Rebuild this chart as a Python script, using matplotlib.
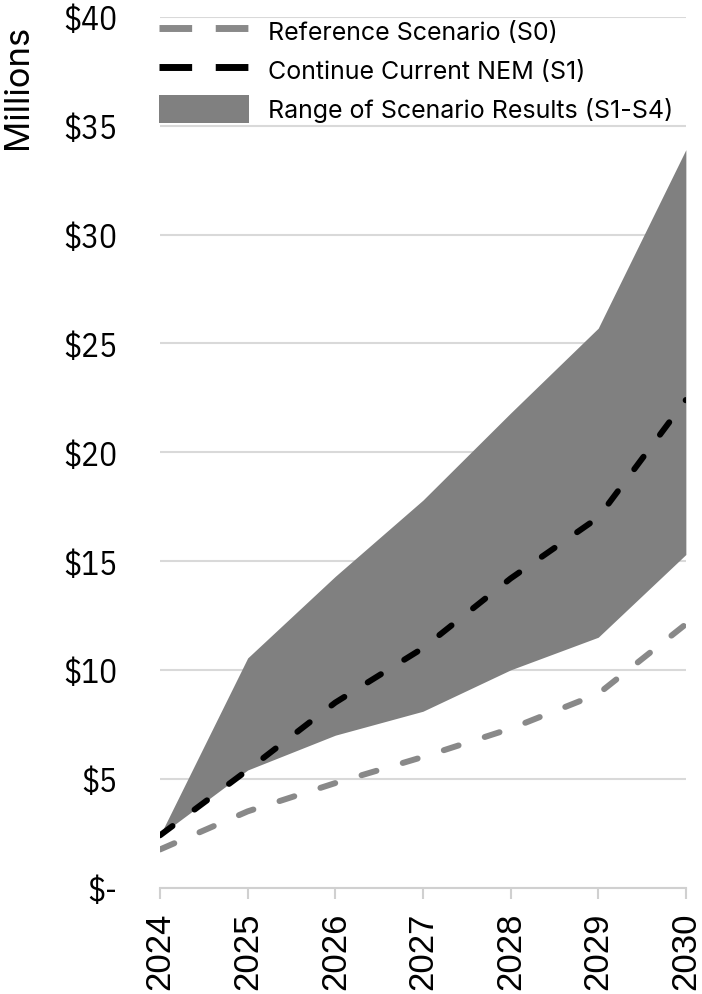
import matplotlib.pyplot as plt
from matplotlib.lines import Line2D
from matplotlib.patches import Patch

years = [2024, 2025, 2026, 2027, 2028, 2029, 2030]
s0_reference = [1.75, 3.5, 4.8, 6.0, 7.3, 8.9, 12.1]
s1_continue = [2.4, 5.4, 8.5, 11.0, 14.2, 17.0, 22.4]
range_low = [2.4, 5.4, 7.0, 8.1, 10.0, 11.5, 15.3]
range_high = [2.4, 10.55, 14.3, 17.8, 21.8, 25.7, 33.9]
y_ticks = [0, 5, 10, 15, 20, 25, 30, 35, 40]
y_tick_labels = ["$-", "$5", "$10", "$15", "$20", "$25", "$30", "$35", "$40"]

narrow = ["IBM Plex Sans Condensed", "DejaVu Sans"]
plain = ["Liberation Sans", "DejaVu Sans"]
legend_font = ["Inter", "DejaVu Sans"]

fig = plt.figure(figsize=(7.02, 9.95), dpi=100)
ax = fig.add_axes([0.228, 0.107, 0.749, 0.875])

ax.fill_between(years, range_low, range_high, color="#808080", lw=0, zorder=2)
ax.plot(years, s0_reference, color="#898989", lw=4.3, dashes=(2.6, 4.6),
        dash_capstyle="round", zorder=3)
ax.plot(years, s1_continue, color="black", lw=4.3, dashes=(2.6, 4.6),
        dash_capstyle="round", zorder=4)

ax.set_xlim(2024, 2030)
ax.set_ylim(0, 40)
ax.set_yticks(y_ticks)
ax.set_yticklabels(y_tick_labels, family=narrow, fontsize=24)
ax.set_xticks(years)
ax.set_xticklabels([str(y) for y in years], rotation=90, fontsize=25,
                   family=plain)
ax.yaxis.grid(True, color="#d9d9d9", lw=1.5, zorder=0)
ax.tick_params(axis="y", length=0, pad=31)
ax.tick_params(axis="x", length=8, color="#d0d0d0", width=1.5, pad=9)
for side in ["left", "right", "top"]:
    ax.spines[side].set_visible(False)
ax.spines["bottom"].set_color("#d0d0d0")
ax.spines["bottom"].set_linewidth(1.5)

fig.text(0.025, 1 - 87 / 995, "Millions", rotation=90, ha="center", va="center",
         fontsize=25, family=legend_font)

handles = [
    Line2D([], [], color="#898989", lw=5, dashes=(4.7, 3.4), dash_capstyle="butt"),
    Line2D([], [], color="black", lw=5, dashes=(4.7, 3.4), dash_capstyle="butt"),
    Patch(facecolor="#808080", edgecolor="none"),
]
labels = ["Reference Scenario (S0)", "Continue Current NEM (S1)",
          "Range of Scenario Results (S1-S4)"]
ax.legend(handles, labels, loc="upper left", bbox_to_anchor=(-0.021, 1.012),
          frameon=False, prop={"family": legend_font, "size": 18},
          handlelength=3.6, handleheight=1.35, handletextpad=0.75,
          labelspacing=0.45, borderaxespad=0)

fig.savefig("out.png", dpi=100, facecolor="white")
